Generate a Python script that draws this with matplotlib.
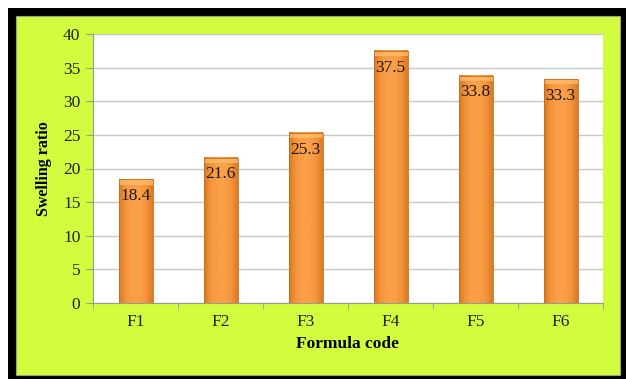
import matplotlib.pyplot as plt
import numpy as np
from matplotlib.patches import Rectangle
from matplotlib.colors import LinearSegmentedColormap

codes = ["F1", "F2", "F3", "F4", "F5", "F6"]
swelling = [18.4, 21.6, 25.3, 37.5, 33.8, 33.3]
labels = ["18.4", "21.6", "25.3", "37.5", "33.8", "33.3"]

plt.rcParams["font.family"] = ["Liberation Serif", "DejaVu Serif"]

W, H = 626, 379
fig = plt.figure(figsize=(W / 100, H / 100), dpi=100)
fig.patch.set_facecolor("white")

# black frame and yellow-green panel
fig.add_artist(Rectangle((8 / W, 1 - 379 / H), 618 / W, 371 / H,
                         transform=fig.transFigure, facecolor="black",
                         edgecolor="none", zorder=0))
fig.add_artist(Rectangle((16 / W, 1 - 375 / H), 604 / W, 359 / H,
                         transform=fig.transFigure, facecolor="#D4FC3E",
                         edgecolor="#9aa07a", linewidth=0.8, zorder=0))

left, right, top, bottom = 93, 603, 34, 303
ax = fig.add_axes([left / W, 1 - bottom / H, (right - left) / W, (bottom - top) / H])
ax.set_facecolor("white")

x = np.arange(len(codes))
bars = ax.bar(x, swelling, width=0.4, color="#F39236", zorder=2)

cmap = LinearSegmentedColormap.from_list(
    "orng", ["#DB7A26", "#F5953C", "#FAA048", "#FAA048", "#F5953C", "#DB7A26"])
grad = np.linspace(0, 1, 64).reshape(1, -1)
for b in bars:
    x0, w, h = b.get_x(), b.get_width(), b.get_height()
    ax.imshow(grad, cmap=cmap, aspect="auto", zorder=3,
              extent=(x0, x0 + w, 0, h))
    b.set_facecolor("none")
    b.set_edgecolor("#C86A1A")
    b.set_linewidth(0.6)
    b.set_zorder(4)
    # lighter bevel at top
    ax.add_patch(Rectangle((x0, h - 0.8), w, 0.8, facecolor="#FFC070",
                           edgecolor="none", alpha=0.7, zorder=3.5))

for xi, v, s in zip(x, swelling, labels):
    ax.text(xi, v - 1.3, s, ha="center", va="top", fontsize=12.5,
            color="#1a1a1a", zorder=5)

ax.set_xlim(-0.5, len(codes) - 0.5)
ax.set_ylim(0, 40)
ax.set_yticks(np.arange(0, 41, 5))
ax.set_xticks(x)
ax.set_xticklabels(codes)
ax.set_xticks(np.arange(-0.5, len(codes), 1), minor=True)
ax.tick_params(axis="x", which="major", length=0, pad=8, labelsize=12.5,
               labelcolor="#222222")
ax.tick_params(axis="x", which="minor", length=4, color="#999999")
ax.tick_params(axis="y", length=5, color="#999999", labelsize=12.5, pad=4,
               labelcolor="#222222")
ax.yaxis.grid(True, color="#c8c8c8", linewidth=1, zorder=0)
ax.set_axisbelow(True)
for side in ["top", "right"]:
    ax.spines[side].set_visible(False)
ax.spines["left"].set_color("#999999")
ax.spines["bottom"].set_color("#999999")

ax.set_ylabel("Swelling ratio", fontsize=11.5, fontweight="bold", labelpad=8)
ax.set_xlabel("Formula code", fontsize=12.5, fontweight="bold", labelpad=4)

fig.savefig("out.png", dpi=100)
